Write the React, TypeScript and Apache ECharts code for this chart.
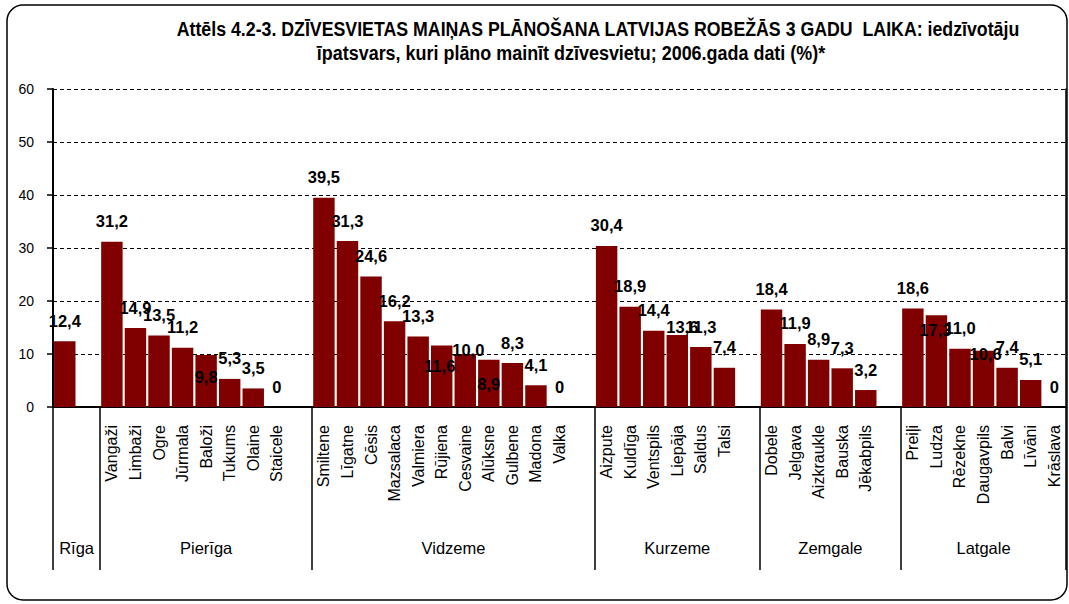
import React, { useEffect, useRef } from 'react';
import * as echarts from 'echarts';

const titleLine1 = 'Attēls 4.2-3. DZĪVESVIETAS MAIŅAS PLĀNOŠANA LATVIJAS ROBEŽĀS 3 GADU  LAIKA: iedzīvotāju';
const titleLine2 = 'īpatsvars, kuri plāno mainīt dzīvesvietu; 2006.gada dati (%)*';

const regionNames = ['Rīga', 'Pierīga', 'Vidzeme', 'Kurzeme', 'Zemgale', 'Latgale'];

const rigaTowns = ['Rīga'];
const rigaValues = [12.4];
const pierigaTowns = ['Vangaži', 'Limbaži', 'Ogre', 'Jūrmala', 'Baloži', 'Tukums', 'Olaine', 'Staicele'];
const pierigaValues = [31.2, 14.9, 13.5, 11.2, 9.8, 5.3, 3.5, 0];
const vidzemeTowns = ['Smiltene', 'Līgatne', 'Cēsis', 'Mazsalaca', 'Valmiera', 'Rūjiena', 'Cesvaine', 'Alūksne', 'Gulbene', 'Madona', 'Valka'];
const vidzemeValues = [39.5, 31.3, 24.6, 16.2, 13.3, 11.6, 10.0, 8.9, 8.3, 4.1, 0];
const kurzemeTowns = ['Aizpute', 'Kuldīga', 'Ventspils', 'Liepāja', 'Saldus', 'Talsi'];
const kurzemeValues = [30.4, 18.9, 14.4, 13.6, 11.3, 7.4];
const zemgaleTowns = ['Dobele', 'Jelgava', 'Aizkraukle', 'Bauska', 'Jēkabpils'];
const zemgaleValues = [18.4, 11.9, 8.9, 7.3, 3.2];
const latgaleTowns = ['Preiļi', 'Ludza', 'Rēzekne', 'Daugavpils', 'Balvi', 'Līvāni', 'Krāslava'];
const latgaleValues = [18.6, 17.3, 11.0, 10.6, 7.4, 5.1, 0];

const yMin = 0;
const yMax = 60;
const yStep = 10;

// label placement nudges (style only), as in the original figure
const labelNudge: Record<string, [number, number]> = {
  'Baloži': [0, 42],
  'Rūjiena': [-2, 41],
  'Cesvaine': [3, 16],
  'Alūksne': [0, 45],
  'Liepāja': [5, 13],
  'Ludza': [-1, 35],
  'Daugavpils': [2, 24],
};

const SANS = "'Liberation Sans', Arial, sans-serif";

const regions = [
  { towns: rigaTowns, values: rigaValues },
  { towns: pierigaTowns, values: pierigaValues },
  { towns: vidzemeTowns, values: vidzemeValues },
  { towns: kurzemeTowns, values: kurzemeValues },
  { towns: zemgaleTowns, values: zemgaleValues },
  { towns: latgaleTowns, values: latgaleValues },
];

const fmt = (v: number) => (v === 0 ? '0' : v.toFixed(1).replace('.', ','));

export default function App() {
  const ref = useRef<HTMLDivElement>(null);
  useEffect(() => {
    document.body.style.margin = '0';
    const chart = echarts.init(ref.current!, null, { renderer: 'svg' });

    const categories: string[] = [];
    const barData: any[] = [];
    const boundaries: number[] = [0];
    const centers: number[] = [];
    let idx = 0;
    regions.forEach((r, ri) => {
      const start = idx;
      r.towns.forEach((t, i) => {
        categories.push(t);
        const n = labelNudge[t];
        barData.push(n ? { value: r.values[i], label: { offset: n } } : r.values[i]);
        idx++;
      });
      if (ri < regions.length - 1) {
        categories.push('');
        barData.push('-');
        idx++;
      }
      boundaries.push(idx);
      centers.push((start + idx) / 2);
    });

    const titleStyle = (text: string) => ({
      text,
      fill: '#000',
      font: `bold 21px ${SANS}`,
      align: 'center',
      verticalAlign: 'middle',
      textAlign: 'center',
      textVerticalAlign: 'middle',
    });

    chart.setOption({
      animation: false,
      graphic: [
        {
          type: 'rect',
          shape: { x: 7, y: 5, width: 1060, height: 595, r: 16 },
          style: { fill: 'none', stroke: '#000', lineWidth: 1.5 },
          silent: true,
        },
        {
          type: 'text',
          x: 598,
          y: 28,
          scaleX: 0.845,
          style: titleStyle(titleLine1),
          silent: true,
        },
        {
          type: 'text',
          x: 571,
          y: 52,
          scaleX: 0.855,
          style: titleStyle(titleLine2),
          silent: true,
        },
      ],
      grid: { left: 53, right: 3, top: 89, bottom: 197, containLabel: false },
      xAxis: [
        {
          type: 'category',
          data: categories,
          position: 'bottom',
          axisLine: { show: true, lineStyle: { color: '#000', width: 2 } },
          axisTick: { show: false },
          splitLine: { show: false },
          axisLabel: {
            interval: 0,
            rotate: 90,
            margin: 18,
            fontSize: 16,
            fontFamily: SANS,
            color: '#000',
            formatter: (v: string) => (regionNames.includes(v) ? '' : v),
          },
        },
        {
          type: 'value',
          min: 0,
          max: boundaries[boundaries.length - 1],
          position: 'bottom',
          axisLine: { show: false },
          splitLine: { show: false },
          axisTick: {
            show: true,
            customValues: boundaries,
            length: 163,
            lineStyle: { color: '#000', width: 1.5 },
          },
          axisLabel: {
            show: true,
            customValues: centers,
            margin: 132,
            fontSize: 16.5,
            fontFamily: SANS,
            color: '#000',
            formatter: (v: number) => {
              const i = centers.findIndex((c) => Math.abs(c - v) < 1e-6);
              return i >= 0 ? regionNames[i] : '';
            },
          },
        },
      ],
      yAxis: [
        {
          type: 'value',
          min: yMin,
          max: yMax,
          interval: yStep,
          axisLine: { show: true, lineStyle: { color: '#000', width: 2 } },
          axisTick: { show: true, length: 6, lineStyle: { color: '#000', width: 1.5 } },
          axisLabel: { margin: 19, fontSize: 14, fontFamily: SANS, color: '#000' },
          splitLine: { show: true, lineStyle: { color: '#000', type: [4, 3], width: 1 } },
        },
        {
          type: 'value',
          position: 'right',
          min: yMin,
          max: yMax,
          interval: yStep,
          axisLine: { show: true, lineStyle: { color: '#000', width: 1.5 } },
          axisTick: { show: false },
          axisLabel: { show: false },
          splitLine: { show: false },
        },
      ],
      series: [
        {
          type: 'bar',
          xAxisIndex: 0,
          yAxisIndex: 0,
          data: barData,
          barCategoryGap: '9%',
          itemStyle: { color: '#800000' },
          label: {
            show: true,
            position: 'top',
            distance: 12,
            fontSize: 16.5,
            fontWeight: 'bold',
            fontFamily: SANS,
            color: '#000',
            formatter: (p: any) => fmt(Number(p.value)),
          },
        },
      ],
    });
    return () => chart.dispose();
  }, []);
  return <div ref={ref} style={{ width: 1069, height: 604 }} />;
}
